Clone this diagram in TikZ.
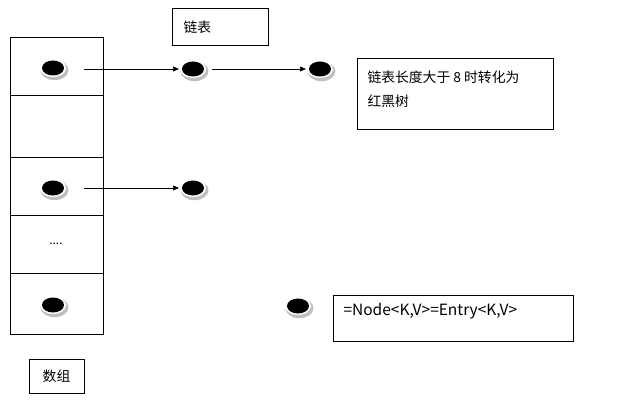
\documentclass[tikz,border=0pt]{standalone}
\usepackage{fontspec}
\setmainfont{Carlito}
\newfontfamily\cjk{Noto Sans CJK SC}
\usetikzlibrary{arrows.meta}
\begin{document}
\begin{tikzpicture}[x=1pt,y=-1pt,
  cell/.style={draw,line width=0.8pt,minimum width=93pt,minimum height=58pt,inner sep=0pt,anchor=north west},
  lbl/.style={draw,line width=0.8pt,inner sep=0pt,anchor=north west},
  arr/.style={-{Triangle[length=6pt,width=5pt]},line width=0.7pt},
  txt/.style={font=\fontsize{13.8}{16}\selectfont\cjk}
]
\useasboundingbox (0,0) rectangle (643,404);
\newcommand{\entrydot}[2]{%
  \fill[gray!50] (#1+1.5,#2+2.2) ellipse (14pt and 10pt);
  \fill[white] (#1,#2) ellipse (13pt and 9pt);
  \fill[black] (#1,#2) ellipse (11pt and 7.5pt);}
% array cells
\node[cell,minimum height=58pt] (c1) at (10,37) {};
\node[cell,minimum height=62pt] (c2) at (10,95) {};
\node[cell,minimum height=58pt] (c3) at (10,157) {};
\node[cell,minimum height=58pt] (c4) at (10,215) {};
\node[cell,minimum height=61pt] (c5) at (10,273) {};
\node[font=\fontsize{13}{16}\selectfont] (dots) at (56,244) {....};
% entry dots
\entrydot{53}{68}
\entrydot{193}{69}
\entrydot{320}{69}
\entrydot{53}{188}
\entrydot{193}{188}
\entrydot{53}{305}
\entrydot{298}{306}
\coordinate (a1s) at (84,69);
\coordinate (a1e) at (179,69);
\coordinate (a2s) at (212,69);
\coordinate (a2e) at (306,69);
\coordinate (a3s) at (84,188);
\coordinate (a3e) at (179,188);
\draw[arr] (a1s) -- (a1e);
\draw[arr] (a2s) -- (a2e);
\draw[arr] (a3s) -- (a3e);
% label boxes
\node[lbl,minimum width=96pt,minimum height=37pt] (lb) at (172,8) {};
\node[txt,anchor=west] (lbt) at (180,27) {链表};
\node[lbl,minimum width=196pt,minimum height=71pt] (rb) at (357,58) {};
\node[txt,anchor=west] (rbt1) at (364,77) {链表长度大于 8 时转化为};
\node[txt,anchor=west] (rbt2) at (364,101) {红黑树};
\node[lbl,minimum width=240pt,minimum height=46pt] (nb) at (333,295) {};
\node[txt,anchor=west,font=\fontsize{15.5}{18}\selectfont\cjk] (nbt) at (340,311) {=Node<K,V>=Entry<K,V>};
\node[lbl,minimum width=55pt,minimum height=34pt] (ab) at (29,359) {};
\node[txt] (abt) at (56.5,376) {数组};
\end{tikzpicture}
\end{document}
